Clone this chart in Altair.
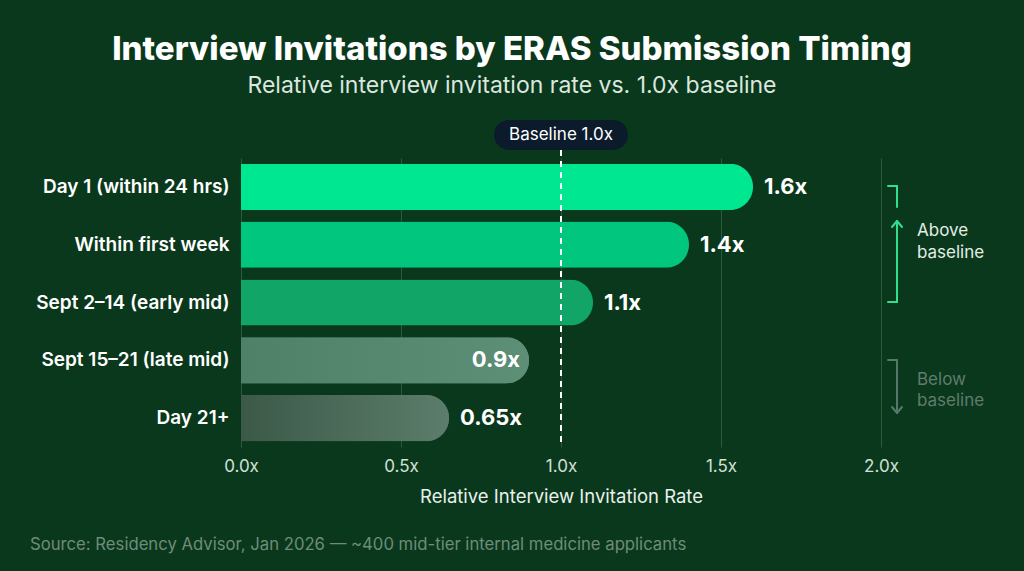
import altair as alt
import pandas as pd

categories = ["Day 1 (within 24 hrs)", "Within first week", "Sept 2–14 (early mid)",
              "Sept 15–21 (late mid)", "Day 21+"]
values = [1.6, 1.4, 1.1, 0.9, 0.65]
labels = ["1.6x", "1.4x", "1.1x", "0.9x", "0.65x"]
inside = [False, False, False, True, False]
bar_colors = ["#00e792", "#00c67e", "#12a568", "#588b72", "#4b6d5a"]
x_ticks = [0, 0.5, 1.0, 1.5, 2.0]

df = pd.DataFrame({"cat": categories, "val": values, "label": labels, "inside": inside})

FONT = "Inter"
BG = "#0a381c"

y_enc = alt.Y("cat:N", sort=categories, title=None,
              scale=alt.Scale(paddingInner=0.2, paddingOuter=0.1),
              axis=alt.Axis(labelFontSize=19, labelFontWeight=600, labelColor="#ffffff",
                            labelPadding=12, domain=False, ticks=False, labelFont=FONT,
                            labelLimit=300))
x_enc = alt.X("val:Q", title="Relative Interview Invitation Rate",
              scale=alt.Scale(domain=[0, 2], nice=False),
              axis=alt.Axis(values=x_ticks, format=".1f", labelExpr="datum.label + 'x'",
                            grid=True, gridColor="#2b5a3d", gridWidth=1,
                            domain=False, ticks=False, labelFontSize=17, labelFlush=False,
                            labelColor="#d3e0d7", labelPadding=11, labelFont=FONT,
                            titleFontSize=18.5, titleFontWeight=400, titleColor="#e8f1eb",
                            titlePadding=13, titleFont=FONT))

base = alt.Chart(df)

bars = base.mark_bar(cornerRadiusEnd=23).encode(
    x=x_enc, y=y_enc,
    color=alt.Color("cat:N", sort=categories, legend=None,
                    scale=alt.Scale(domain=categories, range=bar_colors)),
)

bar4 = base.transform_filter(alt.datum.cat == categories[3]).mark_bar(
    cornerRadiusEnd=23,
    color=alt.Gradient(gradient="linear", x1=0, x2=1, y1=0, y2=0,
                       stops=[alt.GradientStop(color="#4f8168", offset=0),
                              alt.GradientStop(color="#5d8e76", offset=1)]),
).encode(x="val:Q", y=alt.Y("cat:N", sort=categories))

bar5 = base.transform_filter(alt.datum.cat == categories[4]).mark_bar(
    cornerRadiusEnd=23,
    color=alt.Gradient(gradient="linear", x1=0, x2=1, y1=0, y2=0,
                       stops=[alt.GradientStop(color="#3c5948", offset=0),
                              alt.GradientStop(color="#5c7d6b", offset=1)]),
).encode(x="val:Q", y=alt.Y("cat:N", sort=categories))

txt_out = base.transform_filter(alt.datum.inside == False).mark_text(
    align="left", baseline="middle", dx=11, fontSize=22, fontWeight=700,
    color="#ffffff", font=FONT
).encode(x="val:Q", y=alt.Y("cat:N", sort=categories), text="label:N")

txt_in = base.transform_filter(alt.datum.inside == True).mark_text(
    align="right", baseline="middle", dx=-9, fontSize=22, fontWeight=700,
    color="#ffffff", font=FONT
).encode(x="val:Q", y=alt.Y("cat:N", sort=categories), text="label:N")

baseline_rule = alt.Chart(pd.DataFrame({"b": [1.0]})).mark_rule(
    color="#ffffff", strokeWidth=2, strokeDash=[6, 5]
).encode(x="b:Q", y=alt.value(-8), y2=alt.value(289))

pill = alt.Chart(pd.DataFrame({"b": [1.0]})).mark_rect(
    color="#0b1b2c", cornerRadius=15
).encode(x=alt.value(253), x2=alt.value(387), y=alt.value(-38), y2=alt.value(-8))

pill_text = alt.Chart(pd.DataFrame({"t": ["Baseline 1.0x"]})).mark_text(
    fontSize=17, color="#ffffff", font=FONT, baseline="middle", align="center"
).encode(x=alt.value(320), y=alt.value(-23), text="t:N")


def seg(x1, y1, x2, y2, color):
    return alt.Chart(pd.DataFrame({"s": [0]})).mark_rule(
        color=color, strokeWidth=2, strokeCap="round"
    ).encode(x=alt.value(x1), y=alt.value(y1), x2=alt.value(x2), y2=alt.value(y2))


UP = "#2fe08c"
DN = "#58776a"
annot = [
    seg(647, 28, 656, 28, UP), seg(656, 28, 656, 49, UP),
    seg(656, 63, 656, 144, UP), seg(647, 144, 656, 144, UP),
    seg(656, 63, 651, 69, UP), seg(656, 63, 661, 69, UP),
    seg(647, 202, 656, 202, DN), seg(656, 202, 656, 255, DN),
    seg(656, 255, 651, 249, DN), seg(656, 255, 661, 249, DN),
]


def note(text, y, color):
    return alt.Chart(pd.DataFrame({"t": [text]})).mark_text(
        fontSize=17, color=color, font=FONT, align="left", baseline="middle"
    ).encode(x=alt.value(676), y=alt.value(y), text="t:N")


notes = [note("Above", 73, "#e3eee7"), note("baseline", 95, "#e3eee7"),
         note("Below", 222, "#5f7c6c"), note("baseline", 243, "#5f7c6c")]

source = alt.Chart(pd.DataFrame({"t": ["Source: Residency Advisor, Jan 2026 — ~400 mid-tier internal medicine applicants"]})).mark_text(
    fontSize=16.7, color="#6f8c7a", font=FONT, align="left", baseline="middle"
).encode(x=alt.value(-211), y=alt.value(387), text="t:N")

chart = alt.layer(bars, bar4, bar5, baseline_rule, txt_out, txt_in, pill, pill_text,
                  *annot, *notes, source).properties(
    width=640, height=289,
    autosize=alt.AutoSizeParams(type="none"),
    padding={"left": 241, "top": 158, "right": 143, "bottom": 124},
    background=BG,
    title=alt.TitleParams(
        text="Interview Invitations by ERAS Submission Timing",
        subtitle="Relative interview invitation rate vs. 1.0x baseline",
        anchor="middle", dx=-49, offset=22,
        fontSize=33, fontWeight=800, color="#ffffff", font=FONT,
        subtitleFontSize=23, subtitleColor="#dbe7df", subtitleFont=FONT,
        subtitlePadding=8,
    ),
).configure_view(stroke=None)

chart.save("out.html", embed_options={"renderer": "svg", "actions": False})
